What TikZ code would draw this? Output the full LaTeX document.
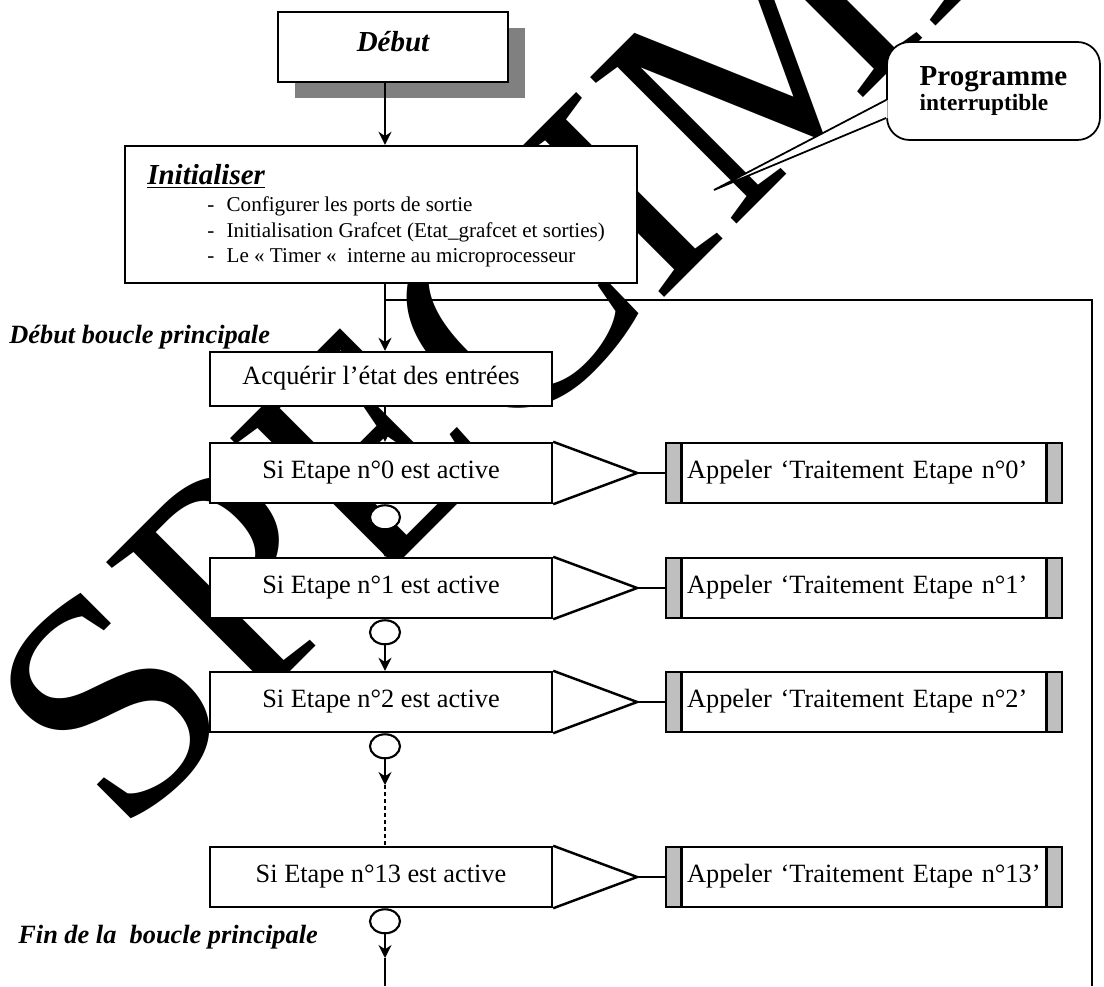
\documentclass[tikz,border=0pt]{standalone}
\usepackage{fontspec}
\setmainfont{Liberation Serif}
\usetikzlibrary{shapes.geometric, arrows.meta, positioning, calc, shadows}
\tikzset{
	debutbox/.style={rectangle, draw=black, line width=1.4pt, fill=white, minimum width=4.6cm, minimum height=1.4cm, font=\fontsize{16.5}{20}\selectfont\bfseries\itshape, drop shadow={shadow xshift=0.34cm, shadow yshift=-0.32cm, fill=black!50, opacity=1}},
	initbox/.style ={rectangle, draw=black, line width=1.4pt, fill=white, minimum width=10.24cm, minimum height=2.74cm},
	stepbox/.style ={rectangle, draw=black, line width=1.4pt, fill=white, minimum width=6.84cm, minimum height=1.2cm, text height=0.68em, text depth=0.02em, font=\fontsize{15}{18}\selectfont},
	callbox/.style ={rectangle, draw=black, line width=1.4pt, fill=white, minimum width=7.92cm, minimum height=1.2cm, text width=7.08cm, inner xsep=0.42cm, text height=0.68em, text depth=0.02em, align=left, font=\fontsize{15}{18}\selectfont,
		path picture={
			\fill[black!25] (path picture bounding box.north west) rectangle ([xshift=0.31cm]path picture bounding box.south west);
			\fill[black!25] (path picture bounding box.north east) rectangle ([xshift=-0.31cm]path picture bounding box.south east);
			\draw[line width=1.4pt] ([xshift=0.31cm]path picture bounding box.north west) -- ([xshift=0.31cm]path picture bounding box.south west);
			\draw[line width=1.4pt] ([xshift=-0.31cm]path picture bounding box.north east) -- ([xshift=-0.31cm]path picture bounding box.south east);
		}},
	bulle/.style   ={rectangle, rounded corners=0.45cm, draw=black, line width=1pt, fill=white, minimum width=4.26cm, minimum height=1.96cm, align=left, font=\bfseries},
	titre/.style   ={anchor=base west, inner sep=0pt, font=\fontsize{16.5}{20}\selectfont\bfseries\itshape},
	liste/.style   ={anchor=north west, inner sep=0pt, align=left, font=\fontsize{12}{14.7}\selectfont},
	etiquette/.style={anchor=base west, inner sep=0pt, font=\fontsize{15}{18}\selectfont\bfseries\itshape},
	rond/.style    ={ellipse, draw=black, line width=1.2pt, fill=white, minimum width=0.6cm, minimum height=0.48cm, inner sep=0pt},
	trait/.style   ={line width=1.4pt},
	boucle/.style  ={line width=1.4pt},
	fleche/.style  ={-{Stealth[length=2.6mm, width=2.6mm]}, line width=1pt},
	pointille/.style={line width=1.4pt, dash pattern=on 2pt off 2pt},
	% filigrane
	filigrane/.style={inner sep=0pt, rotate=45, font=\fontsize{180}{180}\selectfont},
}
\begin{document}
\begin{tikzpicture}[x=0.02cm, y=-0.02cm]
	\useasboundingbox (0,0) rectangle (1104,986);
	\begin{scope}
		\clip (0,0) rectangle (1104,986);
		\node[filigrane] (specimen) at (602,214) {SPECIMEN};
	\end{scope}

	\coordinate (jonction) at (385,300);
	\coordinate (retour) at (1092,300);
	\coordinate (retourbas) at (1092,986);
	\coordinate (finbas) at (385,986);
	\draw[boucle] (retourbas) -- (retour) -- (jonction);

	\node[debutbox, text height=0.68em, text depth=0.2em] (debut) at (393,47) {Début};
	\node[initbox] (init) at (381,214.5) {};
	\node[titre] (inittitre) at (147,185) {\underline{Initialiser}};
	\node[liste] (initliste) at (207,196) {-\hspace{7pt}Configurer les ports de sortie\\
		-\hspace{7pt}Initialisation Grafcet (Etat\_grafcet et sorties)\\
		-\hspace{7pt}Le « Timer «\ \ interne au microprocesseur};

	\node[bulle] (prog) at (993.5,91) {{\fontsize{16.5}{19}\selectfont Programme}\\{\fontsize{13.3}{15}\selectfont interruptible}};
	\coordinate (pointe) at (714,190);
	\fill[white] ($(prog.west)+(1.5,9)$) -- (pointe) -- ($(prog.west)+(1.5,27)$) -- cycle;
	\draw[line width=1pt] ($(prog.west)+(0,9)$) -- (pointe) -- ($(prog.west)+(0,27)$);

	\node[etiquette] (debboucle) at (9,343) {Début boucle principale};
	\node[stepbox, minimum height=1.08cm] (acq) at (381,379) {Acquérir l’état des entrées};

	\foreach \n/\y in {0/473, 1/588, 2/702, 13/877} {
		\node[stepbox] (s\n) at (381,\y) {Si Etape n°\n\ est active};
		\node[callbox] (a\n) at (864,\y) {Appeler ‘Traitement Etape n°\n’};
		\draw[trait] (s\n.north east) -- ($(s\n.east)+(84,0)$) coordinate (p\n) -- (s\n.south east);
		\draw[trait] (p\n) -- (a\n.west);
		\node[rond, anchor=north] (c\n) at (s\n.south -| jonction) {};
	}

	\node[etiquette] (finboucle) at (18,943) {Fin de la\ \ boucle principale};

	\draw[fleche] (debut.south -| jonction) -- (init.north -| jonction);
	\draw[fleche] (init.south -| jonction) -- (acq.north -| jonction);
	\draw[fleche] (acq.south -| jonction) -- (s0.north -| jonction);
	\draw[fleche] (c0.south) -- (s1.north -| jonction);
	\draw[fleche] (c1.south) -- (s2.north -| jonction);
	\coordinate (pt2) at (385,785);
	\draw[fleche] (c2.south) -- (pt2);
	\draw[pointille] (pt2) -- (s13.north -| jonction);
	\coordinate (pt13) at (385,958);
	\draw[fleche] (c13.south) -- (pt13);
	\draw[trait] (pt13) -- (finbas);
\end{tikzpicture}
\end{document}
